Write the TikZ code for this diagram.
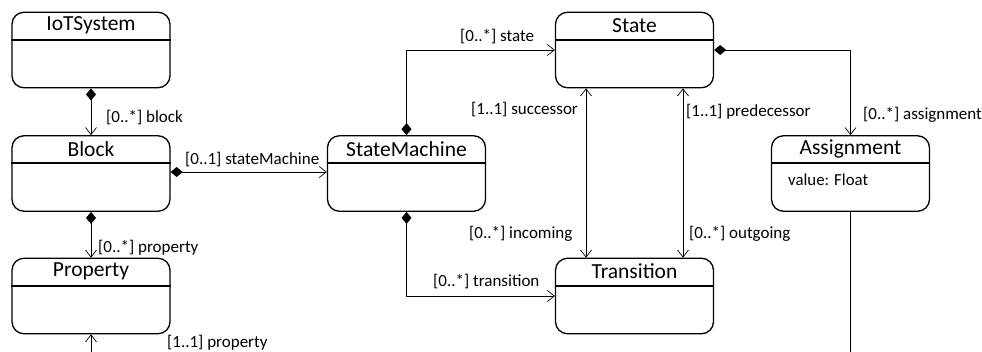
\documentclass[tikz,border=0pt]{standalone}
\usepackage{fontspec}
\setmainfont{Carlito}
\usetikzlibrary{arrows.meta}
\tikzset{
  cls/.style={draw=black, line width=1.3pt, rounded corners=12pt, minimum width=158pt, minimum height=75.5pt, inner sep=0pt},
  ttl/.style={inner sep=0pt, font=\fontsize{21.5}{24}\selectfont},
  hdr/.style={line width=2pt},
  lbl/.style={inner sep=0pt, anchor=west, font=\fontsize{17}{20}\selectfont},
  attr/.style={inner sep=0pt, anchor=west, font=\fontsize{16.8}{20}\selectfont},
  conn/.style={line width=0.95pt},
  opentip/.tip={Straight Barb[length=7pt,width=11pt,line width=0.7pt]},
  comp/.style={conn, {Diamond[length=12pt,width=10pt]}-{opentip}},
  assoc/.style={conn, -{opentip}},
  bidi/.style={conn, {opentip}-{opentip}}
}
\newcommand{\umlclass}[4]{%
  \node[cls] (#1) at (#2) {};
  \node[ttl] (#1-t) at ([yshift=-14pt]#1.north) {#3};
  \draw[hdr] ([yshift=-28pt]#1.north west) -- ([yshift=-28pt]#1.north east);
}
\begin{document}
\begin{tikzpicture}[x=1pt,y=-1pt]
\useasboundingbox (0,0) rectangle (982,351);
\umlclass{iot}{91,50}{IoTSystem}{}
\umlclass{block}{91,173.5}{Block}{}
\umlclass{prop}{91,296}{Property}{}
\umlclass{sm}{406.5,173.5}{StateMachine}{}
\umlclass{state}{634.5,50}{State}{}
\umlclass{trans}{634.5,296}{Transition}{}
\umlclass{assign}{850.5,173.5}{Assignment}{}
\node[attr] (assign-a) at (788,180) {value: Float};

\coordinate (pb) at (91,353);
\coordinate (ab) at (850.5,353);

\draw[comp] (iot.south) -- (block.north);
\draw[comp] ([yshift=1.5pt]block.east) -- ([yshift=1.5pt]sm.west);
\draw[comp] (block.south) -- (prop.north);
\draw[assoc] (pb) -- (prop.south);
\draw[conn] (assign.south) -- (ab);
\draw[comp] (sm.north) |- (state.west);
\draw[comp] (sm.south) |- (trans.west);
\draw[bidi] ([xshift=-48.5pt]trans.north) -- ([xshift=-48.5pt]state.south);
\draw[bidi] ([xshift=48.5pt]trans.north) -- ([xshift=48.5pt]state.south);
\draw[comp] (state.east) -| (assign.north);

\node[lbl] (l1) at (106,118) {[0..*] block};
\node[lbl] (l2) at (185,160) {[0..1] stateMachine};
\node[lbl] (l3) at (98,247.5) {[0..*] property};
\node[lbl] (l4) at (167,343) {[1..1] property};
\node[lbl] (l5) at (460,37) {[0..*] state};
\node[lbl] (l6) at (471,110) {[1..1] successor};
\node[lbl] (l7) at (469,234) {[0..*] incoming};
\node[lbl] (l8) at (433,282) {[0..*] transition};
\node[lbl] (l9) at (686,112) {[1..1] predecessor};
\node[lbl] (l10) at (689,234) {[0..*] outgoing};
\node[lbl] (l11) at (863,115) {[0..*] assignment};
\end{tikzpicture}
\end{document}
